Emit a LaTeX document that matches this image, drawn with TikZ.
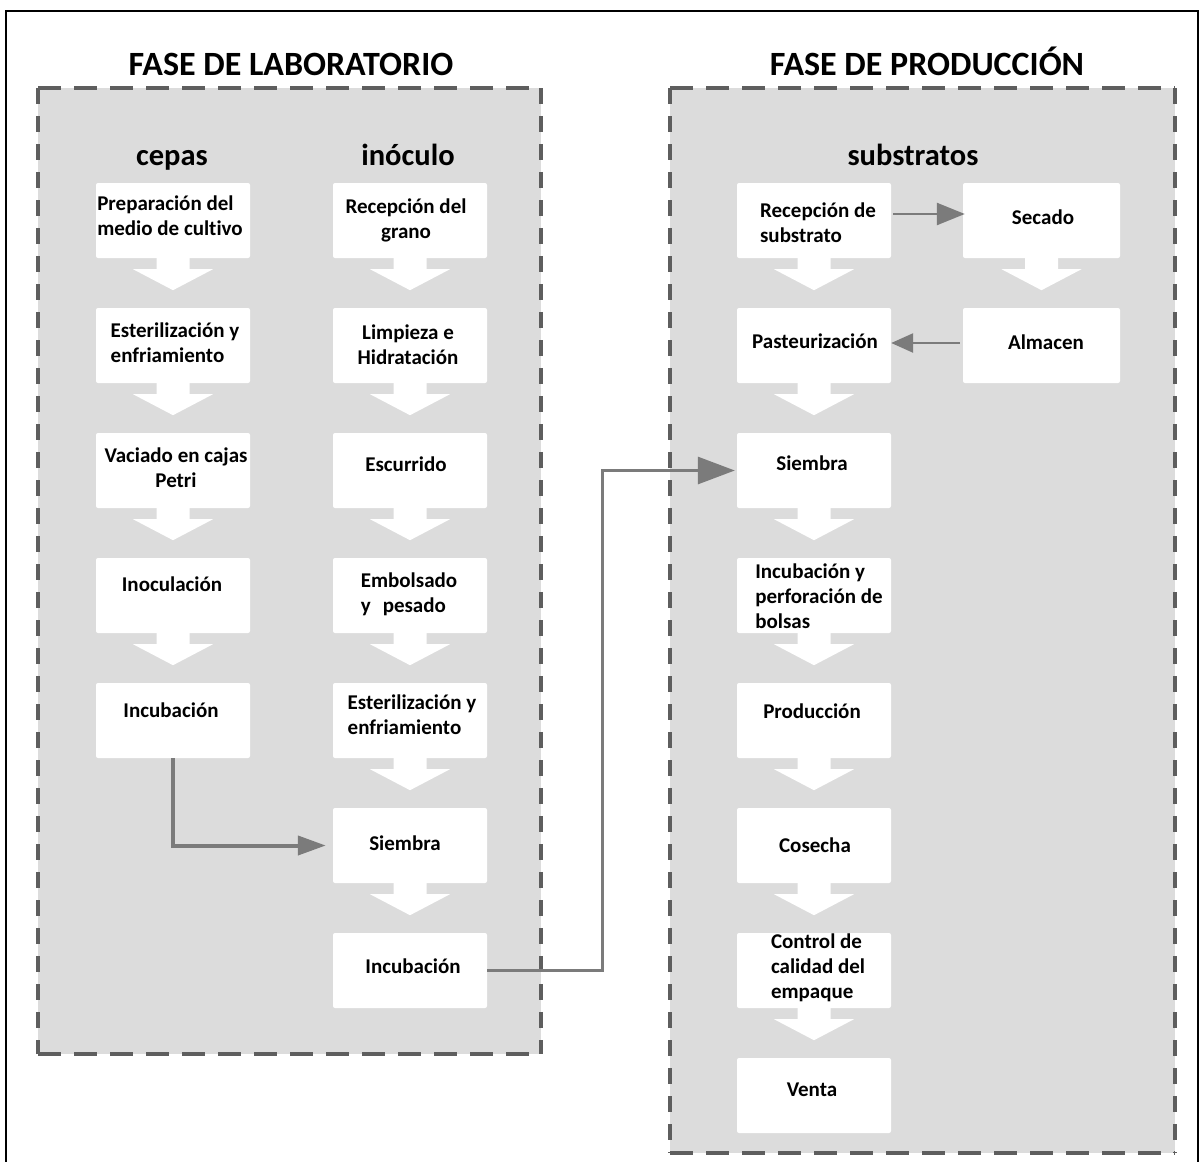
\documentclass[tikz,border=0pt]{standalone}
\usepackage{fontspec}
\setmainfont{Carlito}[Ligatures=NoCommon]
\usetikzlibrary{arrows.meta,calc}
\definecolor{panel}{HTML}{DCDCDC}
\definecolor{dashc}{HTML}{5E5E5E}
\definecolor{connc}{HTML}{7B7B7B}
\newcommand{\dnarrow}[1]{\fill[white] ($(#1.south)+(-16.5,-1)$) -- ++(33,0) -- ++(0,12) -- ++(23.5,0) -- ($(#1.south)+(0,32)$) -- ($(#1.south)+(-40,11)$) -- ++(23.5,0) -- cycle;}
\begin{document}
\begin{tikzpicture}[x=1pt,y=-1pt,
  box/.style={fill=white,rounded corners=2pt,minimum width=154pt,minimum height=75pt,inner sep=0pt},
  lbl/.style={font=\bfseries\fontsize{21}{25}\selectfont,inner sep=0pt,align=center},
  lbll/.style={lbl,align=left},
  ttl/.style={font=\bfseries\fontsize{34}{38}\selectfont,inner sep=0pt,anchor=base},
  colhead/.style={font=\bfseries\fontsize{30.5}{34}\selectfont,inner sep=0pt,anchor=base},
  dh/.style={draw=dashc,line width=4pt,dash pattern=on 23pt off 13pt},
  dv/.style={draw=dashc,line width=4pt,dash pattern=on 16pt off 12pt},
  conn/.style={draw=connc,line width=3pt},
]
\useasboundingbox (0,0) rectangle (1203,1162);
\fill[white] (0,0) rectangle (1203,1162);
\draw[line width=2pt] (6,11) rectangle (1198,1180);

% panels
\fill[panel] (38,88) rectangle (541,1054);
\draw[dh] (38,88) -- (541,88);
\draw[dh] (38,1054) -- (541,1054);
\draw[dv] (38,88) -- (38,1054);
\draw[dv] (541,88) -- (541,1054);
\fill[panel] (670,88) rectangle (1175,1153);
\draw[dh] (670,88) -- (1175,88);
\draw[dh] (670,1153) -- (1175,1153);
\draw[dv] (670,88) -- (670,1153);
\draw[dv] (1175,88) -- (1175,1153);

% titles
\node[ttl] (t1) at (291,75) {FASE DE LABORATORIO};
\node[ttl] (t2) at (927,75) {FASE DE PRODUCCIÓN};
\node[colhead] (h1) at (172,165) {cepas};
\node[colhead] (h2) at (408,165) {inóculo};
\node[colhead] (h3) at (913,165) {substratos};

% boxes
\foreach \k in {1,...,5} {\node[box] (c\k) at (173,95.5+125*\k) {};}
\foreach \k in {1,...,7} {\node[box] (i\k) at (410,95.5+125*\k) {};}
\foreach \k in {1,...,8} {\node[box] (s\k) at (814,95.5+125*\k) {};}
\node[box,minimum width=157pt] (sec) at (1041.5,220.5) {};
\node[box,minimum width=157pt] (alm) at (1041.5,345.5) {};

% white down arrows
\foreach \k in {1,...,4} {\dnarrow{c\k}}
\foreach \k in {1,...,6} {\dnarrow{i\k}}
\foreach \k in {1,...,7} {\dnarrow{s\k}}
\dnarrow{sec}

% labels
\node[lbll] (c1t) at (170,215.5) {Preparación del\\medio de cultivo};
\node[lbll] (c2t) at (175,342.5) {Esterilización y\\enfriamiento};
\node[lbl] (c3t) at (176,467.5) {Vaciado en cajas\\Petri};
\node[lbl] (c4t) at (172,584) {Inoculación};
\node[lbl] (c5t) at (171,710) {Incubación};
\node[lbl] (i1t) at (406,220) {Recepción del\\grano};
\node[lbl] (i2t) at (408,344.5) {Limpieza e\\Hidratación};
\node[lbl] (i3t) at (406,464) {Escurrido};
\node[lbll] (i4t) at (409,594) {Embolsado\\y\hspace{12pt}pesado};
\node[lbll] (i5t) at (412,714.5) {Esterilización y\\enfriamiento};
\node[lbl] (i6t) at (405,843) {Siembra};
\node[lbl] (i7t) at (413,966) {Incubación};
\node[lbll] (s1t) at (818,222.5) {Recepción de\\substrato};
\node[lbl] (sect) at (1043,217) {Secado};
\node[lbl] (s2t) at (815,341) {Pasteurización};
\node[lbl] (almt) at (1046,342) {Almacen};
\node[lbl] (s3t) at (812,463) {Siembra};
\node[lbll] (s4t) at (819,596) {Incubación y\\perforación de\\bolsas};
\node[lbl] (s5t) at (812,711) {Producción};
\node[lbl] (s6t) at (815,845) {Cosecha};
\node[lbll] (s7t) at (818,967.5) {Control de\\calidad del\\empaque};
\node[lbl] (s8t) at (812,1090) {Venta};

% connectors
\draw[conn,line width=4pt,-{Triangle[length=28pt,width=19pt]},shorten >=7pt] (c5.south) |- (i6.west);
\draw[conn,-{Triangle[length=37pt,width=27pt]},shorten >=2pt] (i7.east) -- ++(115,0) |- (s3.west);
\draw[conn,line width=2.5pt,-{Triangle[length=28pt,width=22pt]},shorten <=2pt,shorten >=-2pt] ([yshift=6.5pt]s1.east) -- ([yshift=6.5pt]sec.west);
\draw[conn,line width=2.5pt,-{Triangle[length=22pt,width=19pt]}] ([yshift=2.5pt,xshift=-3pt]alm.west) -- ([yshift=2.5pt]s2.east);
\end{tikzpicture}
\end{document}
